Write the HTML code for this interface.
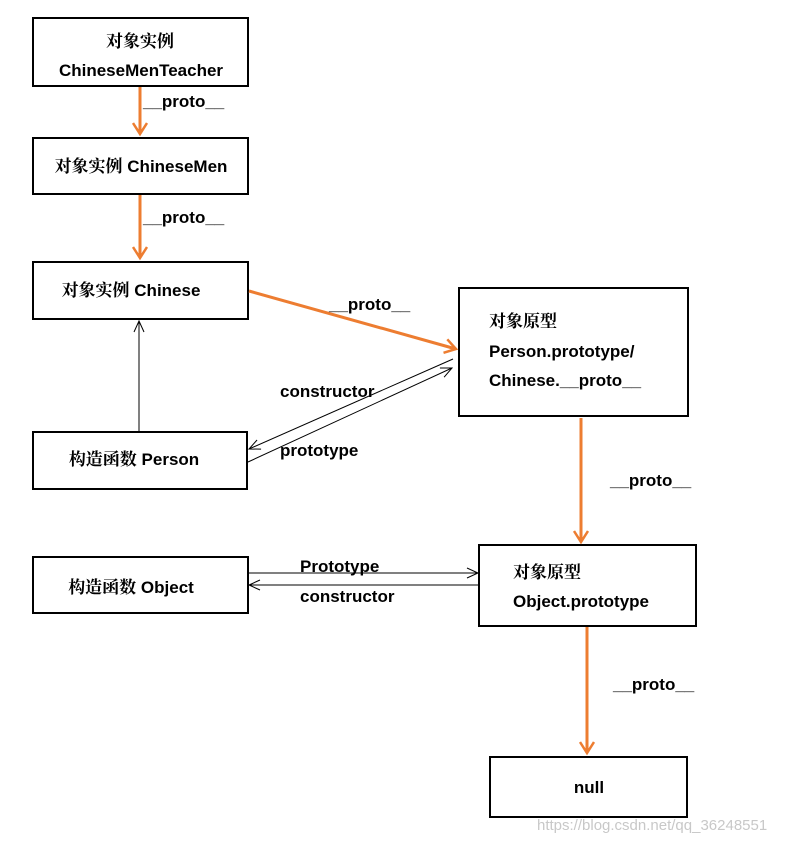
<!DOCTYPE html>
<html><head><meta charset="utf-8"><style>
html,body{margin:0;padding:0;background:#fff;}
svg text{font-family:"Liberation Sans","Noto Serif CJK SC","Noto Sans CJK SC",sans-serif;font-weight:bold;font-size:17px;fill:#000;}
</style></head><body>
<svg width="789" height="843" viewBox="0 0 789 843" xmlns="http://www.w3.org/2000/svg">
<defs>
<marker id="oa" markerWidth="16" markerHeight="16" refX="12" refY="8" orient="auto" markerUnits="userSpaceOnUse">
<path d="M1,1 L12,8 L1,15" fill="none" stroke="#ed7d31" stroke-width="2.5"/></marker>
<marker id="ba" markerWidth="14" markerHeight="14" refX="12" refY="7" orient="auto" markerUnits="userSpaceOnUse">
<path d="M1,2 L12,7 L1,12" fill="none" stroke="#000" stroke-width="1"/></marker>
</defs>
<g fill="#fff" stroke="#000" stroke-width="2">
<rect x="33" y="18" width="215" height="68"/>
<rect x="33" y="138" width="215" height="56"/>
<rect x="33" y="262" width="215" height="57"/>
<rect x="33" y="432" width="214" height="57"/>
<rect x="459" y="288" width="229" height="128"/>
<rect x="33" y="557" width="215" height="56"/>
<rect x="479" y="545" width="217" height="81"/>
<rect x="490" y="757" width="197" height="60"/>
</g>
<g stroke="#ed7d31" stroke-width="3" fill="none">
<line x1="140" y1="87" x2="140" y2="134" marker-end="url(#oa)"/>
<line x1="140" y1="195" x2="140" y2="258" marker-end="url(#oa)"/>
<line x1="249" y1="291" x2="456" y2="349" marker-end="url(#oa)"/>
<line x1="581" y1="418" x2="581" y2="542" marker-end="url(#oa)"/>
<line x1="587" y1="627" x2="587" y2="753" marker-end="url(#oa)"/>
</g>
<g stroke="#000" stroke-width="1" fill="none">
<line x1="139" y1="431" x2="139" y2="321" marker-end="url(#ba)"/>
<line x1="453" y1="359" x2="249" y2="449" marker-end="url(#ba)"/>
<line x1="248" y1="462" x2="452" y2="368" marker-end="url(#ba)"/>
<line x1="248" y1="573" x2="478" y2="573" marker-end="url(#ba)"/>
<line x1="478" y1="585" x2="249" y2="585" marker-end="url(#ba)"/>
</g>
<text x="140" y="47" text-anchor="middle">对象实例</text>
<text x="141" y="76" text-anchor="middle">ChineseMenTeacher</text>
<text x="141" y="172" text-anchor="middle">对象实例 ChineseMen</text>
<text x="131" y="296" text-anchor="middle">对象实例 Chinese</text>
<text x="134" y="465" text-anchor="middle">构造函数 Person</text>
<text x="131" y="593" text-anchor="middle">构造函数 Object</text>
<text x="489" y="327">对象原型</text>
<text x="489" y="357">Person.prototype/</text>
<text x="489" y="386">Chinese.__proto__</text>
<text x="513" y="578">对象原型</text>
<text x="513" y="607">Object.prototype</text>
<text x="589" y="793" text-anchor="middle">null</text>
<text x="143" y="107">__proto__</text>
<text x="143" y="223">__proto__</text>
<text x="329" y="310">__proto__</text>
<text x="280" y="397">constructor</text>
<text x="280" y="456">prototype</text>
<text x="610" y="486">__proto__</text>
<text x="300" y="572">Prototype</text>
<text x="300" y="602">constructor</text>
<text x="613" y="690">__proto__</text>
<text x="537" y="830" style="font-weight:normal;font-size:15px;fill:#c8c8c8">https://blog.csdn.net/qq_36248551</text>
</svg>
</body></html>
